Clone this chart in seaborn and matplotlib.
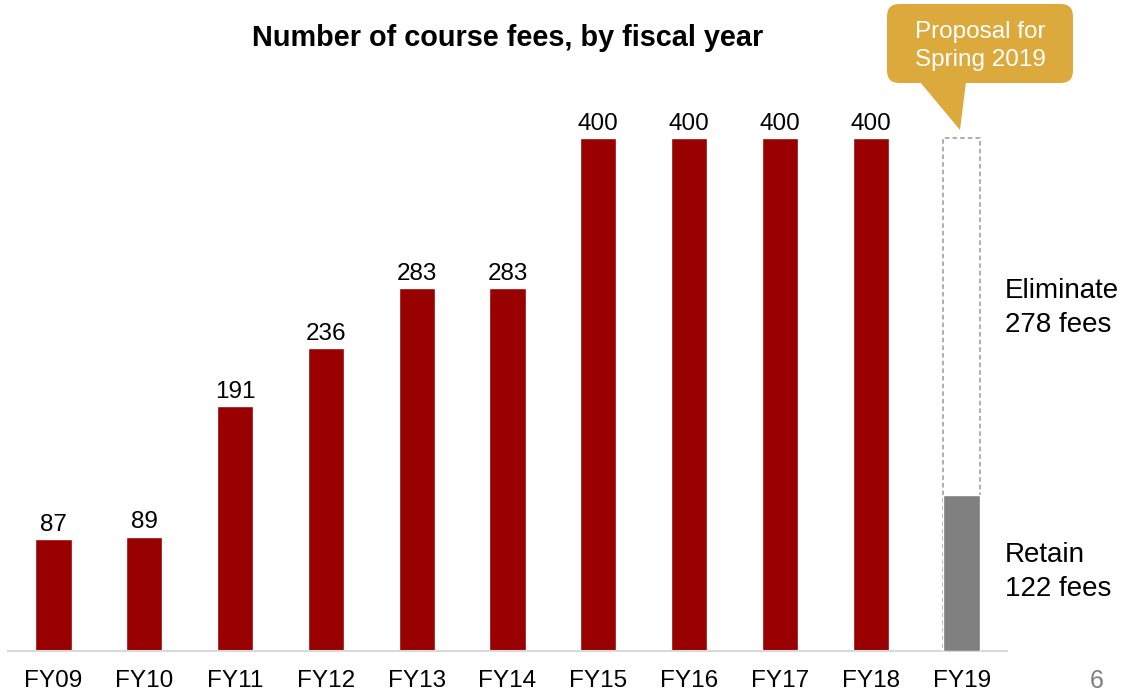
import matplotlib
matplotlib.use("Agg")
import matplotlib.pyplot as plt
from matplotlib.patches import FancyBboxPatch, Polygon
import seaborn as sns
import pandas as pd

years = ["FY09", "FY10", "FY11", "FY12", "FY13", "FY14",
         "FY15", "FY16", "FY17", "FY18", "FY19"]
fees = [87, 89, 191, 236, 283, 283, 400, 400, 400, 400, 400]
retain = 122
eliminate = 278

RED = "#990000"
GREY = "#808080"
GOLD = "#DCAA3C"

sns.set_theme(style="white")
plt.rcParams['font.family'] = ['Liberation Sans', 'DejaVu Sans']
plt.rcParams['text.color'] = 'black'

W, H = 1124, 693
fig = plt.figure(figsize=(W / 100, H / 100), dpi=100)
ax = fig.add_axes([8 / W, 42 / H, 999 / W, 651 / H])

df = pd.DataFrame({"year": years, "fees": fees})
pal = {y: RED for y in years}
pal["FY19"] = "white"
sns.barplot(data=df, x="year", y="fees", hue="year", palette=pal,
            width=0.4, legend=False, saturation=1, ax=ax)

# FY19: dashed outline for the total, grey part for the retained fees
last = ax.patches[-1]
last.set_edgecolor("#999999")
last.set_linestyle((0, (3, 2)))
last.set_linewidth(1.1)
ax.bar(len(years) - 1, retain, width=0.4, color=GREY, zorder=3)

for i, v in enumerate(fees[:-1]):
    ax.annotate(str(v), (i, v), xytext=(0, 2.5), textcoords="offset points",
                ha="center", va="bottom", fontsize=17.5, color="black")

ax.set_xlim(-0.5, 10.5)
ax.set_ylim(0, 651 / 1.2825)
ax.set_xlabel("")
ax.set_ylabel("")
ax.set_yticks([])
ax.tick_params(axis="x", length=0, pad=14, labelsize=17.5, labelcolor="black")
for s in ["top", "right", "left"]:
    ax.spines[s].set_visible(False)
ax.spines["bottom"].set_color("#D9D9D9")
ax.spines["bottom"].set_linewidth(1.5)

fig.text(508 / W, 1 - 38 / H, "Number of course fees, by fiscal year",
         ha="center", va="center", fontsize=20.8, fontweight="bold", color="black")

fig.text(1005 / W, 1 - 308 / H, f"Eliminate\n{eliminate} fees",
         ha="left", va="center", fontsize=20, linespacing=1.37, color="black")
fig.text(1005 / W, 1 - 572 / H, f"Retain\n{retain} fees",
         ha="left", va="center", fontsize=20, linespacing=1.37, color="black")

# callout box
def fp(x, y):
    return (x / W, 1 - y / H)

box = FancyBboxPatch(fp(887, 83), 186 / W, 79 / H,
                     boxstyle="round,pad=0,rounding_size=0.011",
                     transform=fig.transFigure, facecolor=GOLD, edgecolor="none",
                     mutation_aspect=W / H)
fig.patches.append(box)
tri = Polygon([fp(920, 82), fp(966, 82), fp(960, 130)], closed=True,
              transform=fig.transFigure, facecolor=GOLD, edgecolor="none")
fig.patches.append(tri)
fig.text(980 / W, 1 - 46 / H, "Proposal for\nSpring 2019", ha="center", va="center",
         color="white", fontsize=17.5, linespacing=1.3)

fig.text(1097 / W, 0, "6", ha="center", va="bottom", color="#7F7F7F", fontsize=18)

fig.savefig("out.png", dpi=100)
